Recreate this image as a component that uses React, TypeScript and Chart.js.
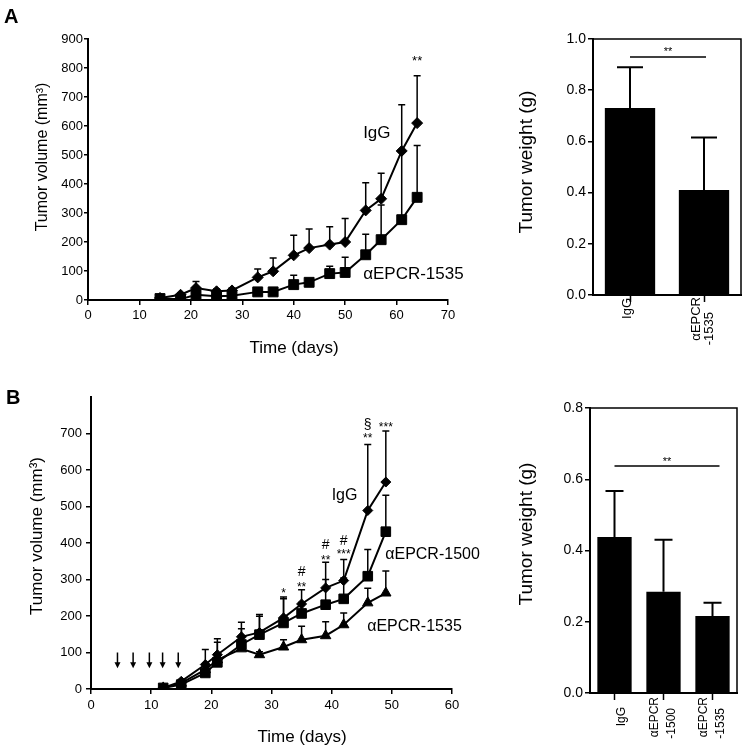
import React, { useEffect, useRef } from "react";
import { Chart, registerables } from "chart.js";
Chart.register(...registerables);

const FONT = "'Liberation Sans', Arial, Helvetica, sans-serif";

// ---------- Panel A: tumor volume ----------
const daysA = [14, 18, 21, 25, 28, 33, 36, 40, 43, 47, 50, 54, 57, 61, 64];
const igGA = [7, 18, 41, 30, 33, 78, 99, 154, 179, 191, 200, 309, 349, 514, 610];
const igGAErr = [3, 6, 23, 8, 8, 29, 46, 69, 66, 62, 81, 95, 88, 159, 163];
const epcr1535A = [5, 3, 18, 13, 15, 28, 28, 53, 61, 91, 95, 156, 208, 277, 354];
const epcr1535AErr = [2, 2, 8, 4, 4, 6, 6, 32, 8, 25, 52, 71, 120, 239, 179];
const xTicksA = [0, 10, 20, 30, 40, 50, 60, 70];
const yTicksA = [0, 100, 200, 300, 400, 500, 600, 700, 800, 900];
const seriesLabelsA = [
  { day: 53.5, value: 576, text: "IgG" },
  { day: 53.5, value: 90, text: "αEPCR-1535" },
];
const sigMarksA = [{ day: 64, value: 831, text: "**" }];

// ---------- Panel A: tumor weight ----------
const barALabels = [["IgG"], ["αEPCR", "-1535"]];
const barAValues = [0.73, 0.41];
const barAErr = [0.16, 0.205];
const yTicksBarA = [0, 0.2, 0.4, 0.6, 0.8, 1.0];
const sigBarA = { from: 0, to: 1, value: 0.93, text: "**" };

// ---------- Panel B: tumor volume ----------
const daysB = [12, 15, 19, 21, 25, 28, 32, 35, 39, 42, 46, 49];
const igGB = [3, 21, 67, 94, 143, 155, 195, 233, 277, 297, 489, 567];
const igGBErr = [2, 5, 41, 44, 40, 49, 57, 39, 70, 58, 181, 140];
const epcr1500B = [3, 12, 44, 73, 122, 149, 181, 207, 231, 247, 309, 431];
const epcr1500BErr = [2, 4, 10, 55, 43, 50, 66, 30, 69, 57, 73, 100];
const epcr1535B = [3, 16, 53, 80, 110, 94, 115, 135, 146, 176, 236, 263];
const epcr1535BErr = [2, 4, 8, 12, 10, 8, 20, 37, 38, 32, 40, 60];
const dosingDays = [4.4, 7.0, 9.7, 11.9, 14.5];
const xTicksB = [0, 10, 20, 30, 40, 50, 60];
const yTicksB = [0, 100, 200, 300, 400, 500, 600, 700, 800];
const seriesLabelsB = [
  { day: 40, value: 529, text: "IgG" },
  { day: 48.9, value: 367, text: "αEPCR-1500" },
  { day: 45.9, value: 170, text: "αEPCR-1535" },
];
const sigMarksB = [
  { day: 32, value: 267, text: "*" },
  { day: 35, value: 285, text: "**" },
  { day: 35, value: 320, text: "#" },
  { day: 39, value: 360, text: "**" },
  { day: 39, value: 393, text: "#" },
  { day: 42, value: 374, text: "***" },
  { day: 42, value: 404, text: "#" },
  { day: 46, value: 692, text: "**" },
  { day: 46, value: 724, text: "§" },
  { day: 49, value: 724, text: "***" },
];

// ---------- Panel B: tumor weight ----------
const barBLabels = [["IgG"], ["αEPCR", "-1500"], ["αEPCR", "-1535"]];
const barBValues = [0.438, 0.284, 0.216];
const barBErr = [0.129, 0.146, 0.037];
const yTicksBarB = [0, 0.2, 0.4, 0.6, 0.8];
const sigBarB = { from: 0, to: 2, value: 0.637, text: "**" };

// ---------- helpers ----------
function txt(ctx: CanvasRenderingContext2D, s: string, x: number, y: number, font: string,
  align: CanvasTextAlign = "center", rot = 0) {
  ctx.save();
  ctx.translate(x, y);
  if (rot) ctx.rotate(rot);
  ctx.font = font;
  ctx.fillStyle = "#000";
  ctx.textAlign = align;
  ctx.textBaseline = "middle";
  ctx.fillText(s, 0, 0);
  ctx.restore();
}

function mark(ctx: CanvasRenderingContext2D, s: string, x: number, y: number, size: number) {
  const star = /^\*+$/.test(s);
  txt(ctx, s, x, y + (star ? size * 0.22 : 0), `${size}px ${FONT}`);
}

function axis(tickLen: number, pad: number, fontSize: number, size: number, isX: boolean, tickVals: number[], fmt?: (v: number) => string, hideVal?: number) {
  return {
    grid: {
      drawOnChartArea: false, drawTicks: true, tickLength: tickLen, color: "#000",
      tickColor: (c: any) => (hideVal !== undefined && c.tick && c.tick.value === hideVal ? "rgba(0,0,0,0)" : "#000"),
      tickWidth: 1.5, lineWidth: 1.5,
    },
    border: { display: true, color: "#000", width: 2 },
    ticks: {
      color: "#000", padding: pad, autoSkip: false, maxRotation: 0, minRotation: 0,
      font: { family: FONT, size: fontSize },
      callback: (v: any) => (hideVal !== undefined && Number(v) === hideVal ? "" : fmt ? fmt(Number(v)) : String(v)),
    },
    afterBuildTicks: (s: any) => { s.ticks = tickVals.map((v) => ({ value: v })); },
    afterFit: (s: any) => { if (isX) s.height = size; else s.width = size; },
  };
}

function lineDs(label: string, xs: number[], ys: number[], errs: number[], style: string, r: number) {
  return {
    label, data: xs.map((d, i) => ({ x: d, y: ys[i] })), errors: errs,
    borderColor: "#000", backgroundColor: "#000", borderWidth: 2,
    pointStyle: style, pointRadius: r, pointHoverRadius: r, pointBorderWidth: 1, tension: 0,
  };
}

const lineErrPlugin = {
  id: "lineErr",
  beforeDatasetsDraw(chart: any) {
    const { ctx } = chart;
    const xs = chart.scales.x, ys = chart.scales.y;
    ctx.save();
    ctx.strokeStyle = "#000";
    ctx.lineWidth = 1.5;
    chart.data.datasets.forEach((ds: any) => {
      ds.data.forEach((p: any, i: number) => {
        const e = ds.errors[i];
        const x = xs.getPixelForValue(p.x);
        const y0 = ys.getPixelForValue(p.y);
        const y1 = ys.getPixelForValue(p.y + e);
        ctx.beginPath();
        ctx.moveTo(x, y0); ctx.lineTo(x, y1);
        ctx.moveTo(x - 3.5, y1); ctx.lineTo(x + 3.5, y1);
        ctx.stroke();
      });
    });
    ctx.restore();
  },
};

function ChartCanvas({ left, top, width, height, make }: any) {
  const ref = useRef<HTMLCanvasElement>(null);
  useEffect(() => {
    const chart = new Chart(ref.current as HTMLCanvasElement, make());
    return () => chart.destroy();
  }, []);
  return (
    <canvas ref={ref} width={width} height={height}
      style={{ position: "absolute", left, top, width, height }} />
  );
}

const baseOpts = {
  responsive: false, animation: false as const, events: [] as any[],
  plugins: { legend: { display: false }, tooltip: { enabled: false } },
};

// ---------- chart configs ----------
function makeLineA(): any {
  return {
    type: "line",
    data: {
      datasets: [
        lineDs("αEPCR-1535", daysA, epcr1535A, epcr1535AErr, "rect", 7),
        lineDs("IgG", daysA, igGA, igGAErr, "rectRot", 5.5),
      ],
    },
    options: {
      ...baseOpts,
      layout: { padding: { left: 0, top: 39, right: 22, bottom: 0 } },
      scales: {
        x: { type: "linear", min: 0, max: 70, ...axis(5, 3, 13, 60, true, xTicksA) },
        y: { type: "linear", min: 0, max: 900, ...axis(4, 1, 13, 88, false, yTicksA) },
      },
    },
    plugins: [lineErrPlugin, {
      id: "textA",
      afterDraw(chart: any) {
        const { ctx } = chart;
        const xs = chart.scales.x, ys = chart.scales.y;
        txt(ctx, "A", 4, 17, `bold 20px ${FONT}`, "left");
        txt(ctx, "Tumor volume (mm³)", 43, 157, `16px ${FONT}`, "center", -Math.PI / 2);
        txt(ctx, "Time (days)", 294, 348, `17px ${FONT}`);
        seriesLabelsA.forEach((l) => txt(ctx, l.text, xs.getPixelForValue(l.day), ys.getPixelForValue(l.value), `17px ${FONT}`, "left"));
        sigMarksA.forEach((m) => mark(ctx, m.text, xs.getPixelForValue(m.day), ys.getPixelForValue(m.value), 13));
      },
    }],
  };
}

function makeLineB(): any {
  return {
    type: "line",
    data: {
      datasets: [
        lineDs("αEPCR-1535", daysB, epcr1535B, epcr1535BErr, "triangle", 6),
        lineDs("αEPCR-1500", daysB, epcr1500B, epcr1500BErr, "rect", 6.8),
        lineDs("IgG", daysB, igGB, igGBErr, "rectRot", 5),
      ],
    },
    options: {
      ...baseOpts,
      layout: { padding: { left: 0, top: 37, right: 38, bottom: 0 } },
      scales: {
        x: { type: "linear", min: 0, max: 60, ...axis(5, 4, 13, 61, true, xTicksB) },
        y: { type: "linear", min: 0, max: 800, ...axis(5, 4, 13, 91, false, yTicksB, undefined, 800) },
      },
    },
    plugins: [lineErrPlugin, {
      id: "textB",
      afterDraw(chart: any) {
        const { ctx } = chart;
        const xs = chart.scales.x, ys = chart.scales.y;
        txt(ctx, "B", 6, 38.5, `bold 20px ${FONT}`, "left");
        txt(ctx, "Tumor volume (mm³)", 37, 176, `17px ${FONT}`, "center", -Math.PI / 2);
        txt(ctx, "Time (days)", 302, 377, `17px ${FONT}`);
        seriesLabelsB.forEach((l) => txt(ctx, l.text, xs.getPixelForValue(l.day), ys.getPixelForValue(l.value), `16px ${FONT}`, "left"));
        sigMarksB.forEach((m) => mark(ctx, m.text, xs.getPixelForValue(m.day), ys.getPixelForValue(m.value), m.text === "#" || m.text === "§" ? 14 : 12));
        // dosing arrows
        ctx.save();
        ctx.strokeStyle = "#000";
        ctx.fillStyle = "#000";
        ctx.lineWidth = 1.5;
        dosingDays.forEach((d) => {
          const x = xs.getPixelForValue(d);
          const yT = ys.getPixelForValue(100);
          const yB = ys.getPixelForValue(57);
          ctx.beginPath();
          ctx.moveTo(x, yT); ctx.lineTo(x, yB - 5);
          ctx.stroke();
          ctx.beginPath();
          ctx.moveTo(x - 3, yB - 6); ctx.lineTo(x + 3, yB - 6); ctx.lineTo(x, yB);
          ctx.closePath();
          ctx.fill();
        });
        ctx.restore();
      },
    }],
  };
}

function barPlugin(labels: string[][], errs: number[], sig: any, capHalf: number, lay: any, title: any, labelFont: number) {
  return {
    id: "barExtras",
    afterDraw(chart: any) {
      const { ctx, chartArea: a } = chart;
      const xs = chart.scales.x, ys = chart.scales.y;
      const vals = chart.data.datasets[0].data;
      ctx.save();
      ctx.strokeStyle = "#000";
      // top & right frame
      ctx.lineWidth = 1.5;
      ctx.beginPath();
      ctx.moveTo(a.left, a.top); ctx.lineTo(a.right, a.top); ctx.lineTo(a.right, a.bottom);
      ctx.stroke();
      // error bars
      ctx.lineWidth = 2;
      vals.forEach((v: number, i: number) => {
        const x = xs.getPixelForValue(i);
        const y0 = ys.getPixelForValue(v);
        const y1 = ys.getPixelForValue(v + errs[i]);
        ctx.beginPath();
        ctx.moveTo(x, y0); ctx.lineTo(x, y1);
        ctx.moveTo(x - capHalf, y1); ctx.lineTo(x + capHalf, y1);
        ctx.stroke();
      });
      // significance
      const sy = ys.getPixelForValue(sig.value);
      ctx.lineWidth = 1.5;
      ctx.beginPath();
      ctx.moveTo(xs.getPixelForValue(sig.from), sy);
      ctx.lineTo(xs.getPixelForValue(sig.to) + lay.sigExt, sy);
      ctx.stroke();
      ctx.restore();
      mark(ctx, sig.text, (xs.getPixelForValue(sig.from) + xs.getPixelForValue(sig.to) + lay.sigExt) / 2, sy - 7, 11);
      // category labels
      labels.forEach((ls, i) => {
        const x = xs.getPixelForValue(i);
        const spec = ls.length === 1 ? lay.single : lay.double;
        ls.forEach((s, j) => {
          txt(ctx, s, x + spec[j].dx, a.bottom + spec[j].top, `${labelFont}px ${FONT}`, "right", -Math.PI / 2);
        });
      });
      txt(ctx, "Tumor weight (g)", title.x, title.y, `19px ${FONT}`, "center", -Math.PI / 2);
    },
  };
}

function makeBar(labels: string[][], values: number[], errs: number[], yTicks: number[], max: number,
  pad: any, yW: number, xH: number, barPct: number, sig: any, capHalf: number, lay: any, title: any, labelFont: number): any {
  return {
    type: "bar",
    data: {
      labels: labels.map((l) => l.join(" ")),
      datasets: [{ data: values, backgroundColor: "#000", borderWidth: 0, barPercentage: barPct, categoryPercentage: 1 }],
    },
    options: {
      ...baseOpts,
      layout: { padding: pad },
      scales: {
        x: {
          type: "category",
          grid: { drawOnChartArea: false, drawTicks: true, tickLength: 7, color: "#000", tickWidth: 1.5, offset: false },
          border: { display: true, color: "#000", width: 2 },
          ticks: { display: false },
          afterFit: (s: any) => { s.height = xH; },
        },
        y: { type: "linear", min: 0, max, ...axis(5, 2, 14, yW, false, yTicks, (v) => v.toFixed(1)) },
      },
    },
    plugins: [barPlugin(labels, errs, sig, capHalf, lay, title, labelFont)],
  };
}

export default function App() {
  return (
    <div style={{ position: "absolute", left: 0, top: 0, width: 745, height: 750, background: "#fff", overflow: "hidden" }}>
      <ChartCanvas left={0} top={0} width={470} height={360} make={makeLineA} />
      <ChartCanvas left={490} top={0} width={255} height={360}
        make={() => makeBar(barALabels, barAValues, barAErr, yTicksBarA, 1.0,
          { left: 0, top: 39, right: 4, bottom: 0 }, 103, 65, 0.68, sigBarA, 13,
          { sigExt: 2, single: [{ dx: -3, top: 3 }], double: [{ dx: -8, top: 2 }, { dx: 5.5, top: 17 }] },
          { x: 37, y: 162 }, 13)} />
      <ChartCanvas left={0} top={360} width={490} height={390} make={makeLineB} />
      <ChartCanvas left={490} top={360} width={255} height={390}
        make={() => makeBar(barBLabels, barBValues, barBErr, yTicksBarB, 0.8,
          { left: 0, top: 48, right: 8, bottom: 0 }, 100, 57, 0.7, sigBarB, 9,
          { sigExt: 7, single: [{ dx: 7, top: 14 }], double: [{ dx: -8.5, top: 4 }, { dx: 8.5, top: 15 }] },
          { x: 37, y: 174 }, 12)} />
    </div>
  );
}
